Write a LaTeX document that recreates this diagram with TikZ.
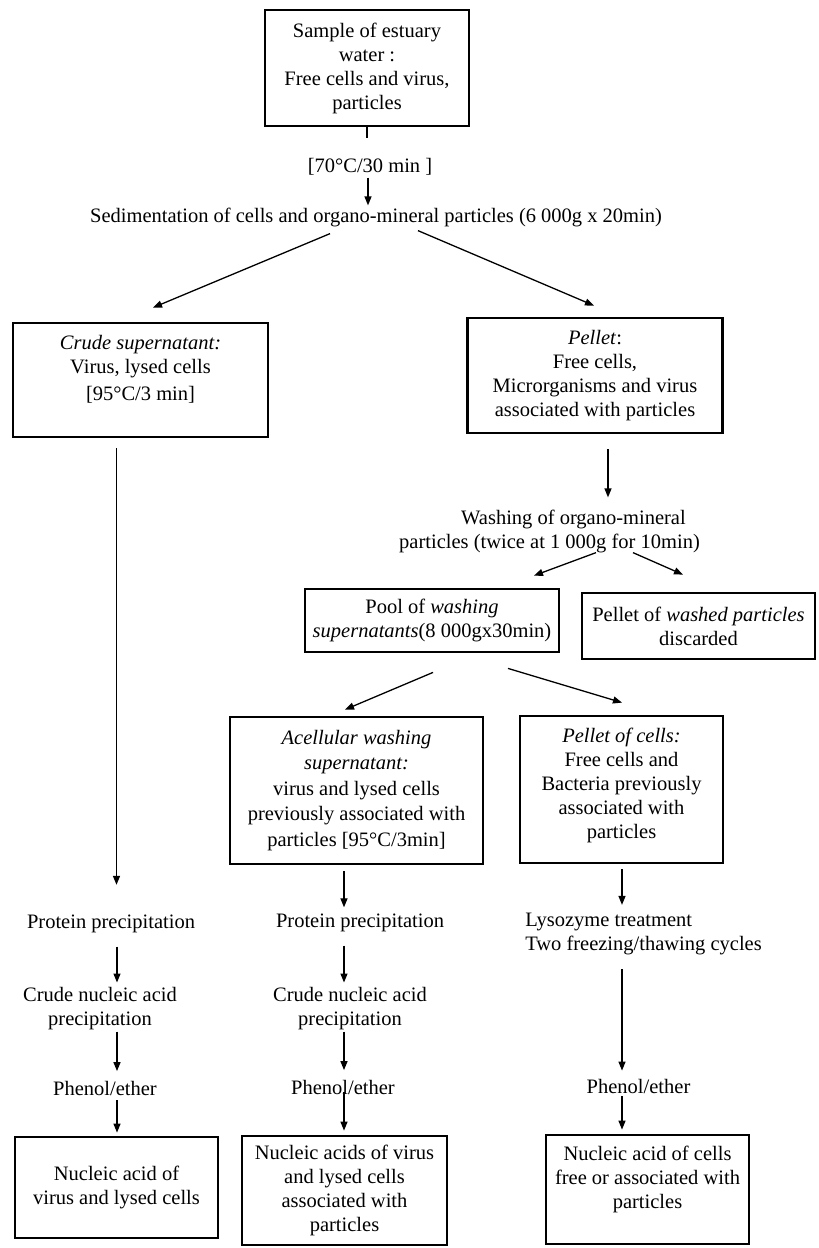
\documentclass[tikz,border=0pt]{standalone}
\usepackage{fontspec}
\setmainfont{Liberation Serif}
\usetikzlibrary{arrows.meta}
\begin{document}
\begin{tikzpicture}[x=1pt,y=-1pt,
  every node/.style={font=\fontsize{20.5}{24}\selectfont, align=center, inner sep=0pt},
  box/.style={draw, line width=2.8pt},
  ln/.style={line width=1.3pt},
  arr/.style={line width=1.3pt, -{Triangle[length=9pt,width=7pt]}}]
\useasboundingbox (0,0) rectangle (819,1248);

% top part
\node[box, minimum width=204pt, minimum height=116pt] (top) at (367,68) {Sample of estuary\\water :\\Free cells and virus,\\particles};
\node (temp) at (370,167) {[70°C/30 min ]};
\node (sed) at (376,217) {Sedimentation of cells and organo-mineral particles (6 000g x 20min)};

\node[box, minimum width=255pt, minimum height=114pt] (crude) at (140.5,380) {\textit{Crude supernatant:}\\Virus, lysed cells\\[3pt]{[}95°C/3 min]\\\mbox{}};
\node[box, minimum width=255pt, minimum height=115pt] (pellet) at (595,375.5) {\textit{Pellet}:\\Free cells,\\Microrganisms and virus\\associated with particles};

\node[align=left] (wash) at (549.5,531) {\hspace*{62pt}Washing of organo-mineral\\particles (twice at 1 000g for 10min)};

\node[box, minimum width=254pt, minimum height=63pt] (pool) at (432,620.5) {Pool of \textit{washing}\\\textit{supernatants}(8 000gx30min)};
\node[box, minimum width=233pt, minimum height=66pt] (washed) at (698.5,626) {Pellet of \textit{washed particles}\\discarded};

\node[box, minimum width=253pt, minimum height=147pt, font=\fontsize{20.5}{25.5}\selectfont] (acel) at (356.5,790.5) {\textit{Acellular washing}\\\textit{supernatant:}\\virus and lysed cells\\previously associated with\\particles {[}95°C/3min]};
\node[box, minimum width=203pt, minimum height=147pt] (pcell) at (621.5,789.5) {\textit{Pellet of cells:}\\Free cells and\\Bacteria previously\\associated with\\particles\\[-12pt]\mbox{}};

% left column
\node (p1) at (111,924) {Protein precipitation};
\node (c1) at (100,1009) {Crude nucleic acid\\precipitation};
\node (phe1) at (105,1088) {Phenol/ether};
\node[box, minimum width=203pt, minimum height=101pt] (bl) at (116.5,1187.5) {Nucleic acid of\\virus and lysed cells};

% middle column
\node (p2) at (360,923) {Protein precipitation};
\node (c2) at (350,1009) {Crude nucleic acid\\precipitation};
\node (phe2) at (343,1087) {Phenol/ether};
\node[box, minimum width=205pt, minimum height=109pt] (bm) at (344.5,1190.5) {Nucleic acids of virus\\and lysed cells\\associated with\\particles};

% right column
\node[align=left] (lyso) at (643.5,934) {Lysozyme treatment\\Two freezing/thawing cycles};
\node (phe3) at (638.5,1086) {Phenol/ether};
\node[box, minimum width=203pt, minimum height=109pt] (br) at (647.5,1189.5) {Nucleic acid of cells\\free or associated with\\particles\\\mbox{}};

% connectors
\draw[ln] (top.south) -- ([shift={(-3,-20)}]temp.north);
\draw[arr] ([shift={(-2,2)}]temp.south) -- ([shift={(-8,-2)}]sed.north);
\draw[arr] ([shift={(-46,7)}]sed.south) -- ([shift={(12.5,-14)}]crude.north);
\draw[arr] ([shift={(42,4)}]sed.south) -- ([shift={(-1,-11)}]pellet.north);
\draw[arr] ([shift={(-24,10)}]crude.south) -- ([shift={(5.5,-30)}]p1.north);
\draw[arr] ([shift={(13,15)}]pellet.south) -- ([shift={(58.5,-12)}]wash.north);
\draw[arr] ([shift={(46.5,0)}]wash.south) -- ([shift={(102,-12)}]pool.north);
\draw[arr] ([shift={(83.5,0)}]wash.south) -- ([shift={(-15.5,-17)}]washed.north);
\draw[arr] ([shift={(1,19)}]pool.south) -- ([shift={(-11.5,-6)}]acel.north);
\draw[arr] ([shift={(76,15)}]pool.south) -- ([shift={(0.5,-12)}]pcell.north);
\draw[arr] ([shift={(-12.5,6)}]acel.south) -- ([shift={(-16,-6.5)}]p2.north);
\draw[arr] ([shift={(0.5,5)}]pcell.south) -- ([shift={(-21.5,-8)}]lyso.north);

\draw[arr] ([shift={(6,13.5)}]p1.south) -- ([shift={(17,-5)}]c1.north);
\draw[arr] ([shift={(17,1)}]c1.south) -- ([shift={(12,-9.5)}]phe1.north);
\draw[arr] ([shift={(12,5)}]phe1.south) -- ([shift={(0.5,-3)}]bl.north);

\draw[arr] ([shift={(-16,13.5)}]p2.south) -- ([shift={(-6,-5)}]c2.north);
\draw[arr] ([shift={(-6,1)}]c2.south) -- ([shift={(1,-9.5)}]phe2.north);
\draw[arr] ([shift={(1,-2)}]phe2.south) -- ([shift={(-0.5,-4)}]bm.north);

\draw[arr] ([shift={(-21.5,14)}]lyso.south) -- ([shift={(-16.5,-8)}]phe3.north);
\draw[arr] ([shift={(-16.5,3)}]phe3.south) -- ([shift={(-25.5,-4)}]br.north);
\end{tikzpicture}
\end{document}
